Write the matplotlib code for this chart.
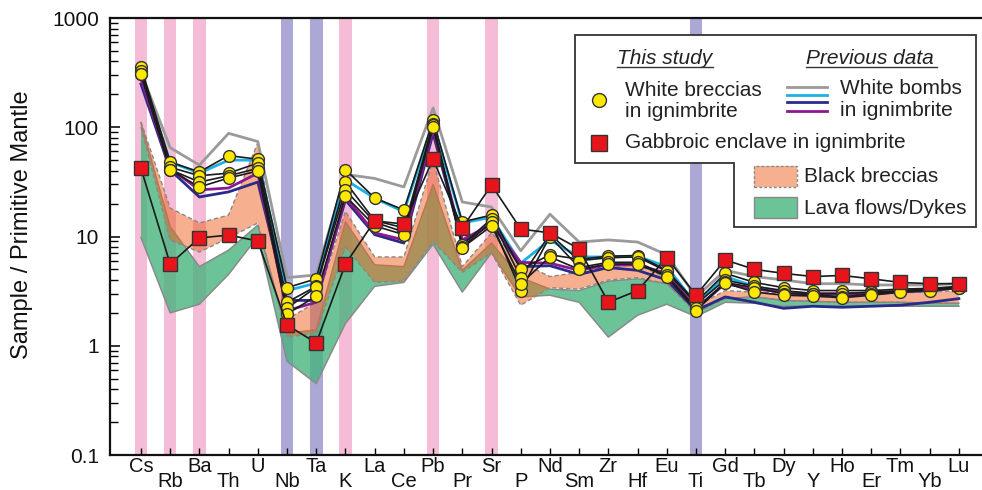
import matplotlib
matplotlib.use("Agg")
import matplotlib.pyplot as plt
import numpy as np
from matplotlib.patches import Polygon, Rectangle
from matplotlib.lines import Line2D
from matplotlib.ticker import LogLocator, NullFormatter, FixedLocator, FixedFormatter

plt.rcParams['font.family'] = ['Liberation Sans', 'DejaVu Sans']

elements = ['Cs', 'Rb', 'Ba', 'Th', 'U', 'Nb', 'Ta', 'K', 'La', 'Ce', 'Pb', 'Pr', 'Sr', 'P', 'Nd',
            'Sm', 'Zr', 'Hf', 'Eu', 'Ti', 'Gd', 'Tb', 'Dy', 'Y', 'Ho', 'Er', 'Tm', 'Yb', 'Lu']

# Gabbroic enclave (this study)
gabbro = [42, 5.6, 9.7, 10.3, 9.1, 1.55, 1.06, 5.6, 13.9, 13.0, 51, 12.0, 29.6, 11.7, 10.8,
          7.7, 2.5, 3.2, 6.4, 2.9, 6.1, 5.0, 4.6, 4.3, 4.4, 4.1, 3.8, 3.7, 3.7]

# White breccias in ignimbrite (this study)
wb1 = [355, 48, 39, 55, 51, 3.4, 4.1, 41, 22.5, 17.5, 116, 13.6, 15.7, 5.0, 6.8,
       6.2, 6.6, 6.7, 4.9, 2.5, 4.6, 3.8, 3.4, 3.2, 3.2, 3.2, 3.3, 3.35, 3.5]
wb2 = [330, 43, 36, 38, 47, 2.5, 3.5, 31.5, 14, 12, 108, 8.4, 14.5, 4.2, 10.5,
       6.0, 6.4, 6.5, 4.8, 2.4, 4.0, 3.5, 3.2, 3.0, 3.0, 3.1, 3.2, 3.3, 3.45]
wb3 = [310, 41, 31.5, 36, 42, 2.2, 3.45, 26.7, 13.5, 11, 104, 8.0, 13.5, 3.2, 10.0,
       5.2, 5.8, 5.8, 4.4, 2.2, 3.8, 3.4, 3.0, 2.95, 2.8, 3.0, 3.15, 3.25, 3.4]
wb4 = [305, 40.6, 28.4, 34.3, 39.8, 1.95, 2.85, 23.5, 12.5, 10.4, 100, 7.9, 12.5, 3.7, 6.5,
       5.0, 5.6, 5.6, 4.3, 2.1, 3.75, 3.1, 2.9, 2.85, 2.75, 2.9, 3.1, 3.2, 3.35]
white_breccias = [wb1, wb2, wb3, wb4]

# White bombs in ignimbrite (previous data)
bomb_gray = [320, 65, 45, 88, 74, 4.2, 4.45, 37, 34, 28.4, 150, 20.7, 18.6, 7.4, 16,
             8.9, 9.3, 8.9, 6.8, 2.8, 4.9, 4.3, 4.0, 3.7, 3.7, 3.6, 3.6, 3.6, 3.7]
bomb_cyan = [310, 48, 38, 50, 50, 3.2, 3.75, 33, 22.5, 16.8, 110, 13.3, 15, 5.7, 9.3,
             6.5, 6.5, 6.6, 5.3, 2.4, 4.3, 3.5, 3.1, 2.9, 2.9, 3.0, 3.1, 3.2, 3.4]
bomb_navy = [249, 40.6, 23, 25.6, 31.5, 2.6, 2.6, 21.6, 10.4, 8.7, 88, 8.7, 13.3, 5.3, 5.4,
             4.5, 5.2, 4.9, 4.0, 2.1, 2.8, 2.5, 2.2, 2.3, 2.25, 2.3, 2.35, 2.5, 2.7]
bomb_purple = [280, 42, 26.7, 27.8, 38, 2.1, 2.5, 23, 10.8, 9.3, 95, 9.3, 13, 5.8, 5.7,
               4.9, 5.5, 5.5, 4.6, 2.2, 3.7, 3.3, 3.1, 3.0, 3.0, 3.0, 3.1, 3.2, 3.4]

# Black breccias range
bb_hi = [112, 18.2, 13.3, 15.7, 72, 1.75, 2.5, 17, 6.5, 6.5, 50, 5.3, 10.8, 5.8, 4.3,
         4.7, 5.3, 5.5, 4.2, 2.3, 3.2, 3.1, 3.0, 3.0, 3.0, 3.0, 3.05, 3.1, 3.2]
bb_lo = [100, 9.3, 7.2, 9.7, 13.3, 1.2, 1.3, 8.0, 3.8, 3.9, 9.0, 4.7, 7.1, 2.35, 3.4,
         3.3, 4.0, 4.2, 3.7, 2.0, 2.7, 2.8, 2.6, 2.55, 2.5, 2.5, 2.5, 2.45, 2.45]

# Lava flows / dykes range
lf_hi = [110, 12.3, 5.3, 7.5, 12.7, 1.3, 1.4, 13.6, 5.5, 5.3, 30, 4.9, 8.7, 4.2, 3.3,
         3.2, 3.9, 4.1, 3.7, 2.2, 2.7, 2.8, 2.6, 2.55, 2.5, 2.5, 2.5, 2.45, 2.45]
lf_lo = [9.8, 2.0, 2.4, 4.5, 10, 0.72, 0.45, 1.6, 3.5, 3.8, 8.5, 3.1, 7.1, 2.8, 2.9,
         2.5, 1.2, 1.9, 2.4, 1.85, 2.5, 2.45, 2.3, 2.3, 2.3, 2.3, 2.3, 2.3, 2.3]

pink_elems = ['Cs', 'Rb', 'Ba', 'K', 'Pb', 'Sr']
purple_elems = ['Nb', 'Ta', 'Ti']

W, H = 982, 490
fig = plt.figure(figsize=(W / 100, H / 100), dpi=100)
ax = fig.add_axes([110 / W, 1 - 455 / H, 1 - 110 / W, (455 - 18) / H])

x = np.arange(len(elements))
ax.set_yscale('log')
ax.set_ylim(0.1, 1000)
ax.set_xlim(-1.06, 28.79)

# highlight bars
for e in pink_elems:
    i = elements.index(e)
    ax.axvspan(i - 0.215, i + 0.215, color='#f4bcd7', lw=0, zorder=0)
for e in purple_elems:
    i = elements.index(e)
    ax.axvspan(i - 0.215, i + 0.215, color='#aca8d6', lw=0, zorder=0)

# fields
green_face = '#47b47d'
salmon_face = '#ef6220'
salmon_alpha = 0.5
ax.fill_between(x, lf_lo, lf_hi, facecolor=green_face, alpha=0.8, lw=0, zorder=1)
ax.plot(x, lf_hi, color='#8a8a8a', lw=1.1, zorder=1.1)
ax.plot(x, lf_lo, color='#8a8a8a', lw=1.1, zorder=1.1)
ax.fill_between(x, bb_lo, bb_hi, facecolor=salmon_face, alpha=salmon_alpha, lw=0, zorder=1.2)
ax.plot(x, bb_hi, color='#888888', lw=1.0, ls=(0, (3, 2)), zorder=1.3)
ax.plot(x, bb_lo, color='#888888', lw=1.0, ls=(0, (3, 2)), zorder=1.3)

# previous data lines
bomb_colors = ['#9a9a9a', '#1cb0e6', '#2a2a8a', '#8c1a8c']
for s, c in zip([bomb_gray, bomb_cyan, bomb_navy, bomb_purple], bomb_colors):
    ax.plot(x, s, color=c, lw=2.0, zorder=2)

# white breccias
for s in white_breccias:
    ax.plot(x, s, color='#1a1a1a', lw=1.2, zorder=3)
for s in white_breccias:
    ax.plot(x, s, ls='none', marker='o', ms=8.5, mfc='#ffe800', mec='#333333', mew=1.0, zorder=4)

# gabbroic enclave
ax.plot(x, gabbro, color='#1a1a1a', lw=1.2, zorder=5)
ax.plot(x, gabbro, ls='none', marker='s', ms=10, mfc='#e8141c', mec='#333333', mew=1.0, zorder=6)

# axes styling
for sp in ['top', 'left', 'bottom']:
    ax.spines[sp].set_linewidth(1.6)
    ax.spines[sp].set_color('#111111')
ax.spines['right'].set_visible(False)

ax.yaxis.set_major_locator(FixedLocator([0.1, 1, 10, 100, 1000]))
ax.yaxis.set_major_formatter(FixedFormatter(['0.1', '1', '10', '100', '1000']))
ax.yaxis.set_minor_locator(LogLocator(base=10, subs=np.arange(2, 10)))
ax.yaxis.set_minor_formatter(NullFormatter())
ax.tick_params(axis='y', which='major', direction='in', length=7, width=1.2, labelsize=15, pad=8, colors='#111111')
ax.tick_params(axis='y', which='minor', direction='in', length=5.5, width=1.0)

ax.set_xticks(x)
ax.set_xticklabels([])
ax.tick_params(axis='x', which='major', direction='in', length=5, width=1.0)
ax.tick_params(axis='x', which='minor', bottom=False)

for i, e in enumerate(elements):
    off = -2 if i % 2 == 0 else -17
    ax.annotate(e, xy=(i, 0), xycoords=('data', 'axes fraction'), xytext=(0, off),
                textcoords='offset pixels', ha='center', va='top', fontsize=14.5,
                color='#111111', annotation_clip=False)

fig.text(22 / W, 1 - 225 / H, 'Sample / Primitive Mantle', rotation=90, ha='center', va='center',
         fontsize=17, color='#111111')

# legend (custom L-shaped box)
def fp(px, py):
    return (px / W, 1 - py / H)

poly = [fp(575, 35), fp(976, 35), fp(976, 227), fp(734, 227), fp(734, 163), fp(575, 163)]
ax.add_patch(Polygon(poly, closed=True, transform=fig.transFigure, facecolor='white',
                     edgecolor='#333333', lw=1.3, zorder=10))

def ftext(px, py, s, **kw):
    ax.text(px / W, 1 - py / H, s, transform=fig.transFigure, zorder=11, color='#222222', **kw)

ftext(617, 58, 'This study', fontsize=15, style='italic', ha='left', va='center')
ftext(806, 58, 'Previous data', fontsize=15, style='italic', ha='left', va='center')
for x0, x1 in [(617, 713), (806, 937)]:
    ax.add_line(Line2D([x0 / W, x1 / W], [1 - 67 / H, 1 - 67 / H], transform=fig.transFigure,
                       color='#333333', lw=1.0, zorder=11))

ax.add_line(Line2D([599 / W], [1 - 100 / H], transform=fig.transFigure, ls='none', marker='o',
                   ms=10, mfc='#ffe800', mec='#333333', mew=1.0, zorder=11))
ftext(625, 90, 'White breccias', fontsize=15, ha='left', va='center')
ftext(625, 111, 'in ignimbrite', fontsize=15, ha='left', va='center')

for yy, c in zip([87, 95, 102, 111], bomb_colors):
    ax.add_line(Line2D([787 / W, 827 / W], [1 - yy / H, 1 - yy / H], transform=fig.transFigure,
                       color=c, lw=2.0, zorder=11))
ftext(840, 88, 'White bombs', fontsize=15, ha='left', va='center')
ftext(840, 110, 'in ignimbrite', fontsize=15, ha='left', va='center')

ax.add_line(Line2D([599 / W], [1 - 143 / H], transform=fig.transFigure, ls='none', marker='s',
                   ms=11, mfc='#e8141c', mec='#333333', mew=1.0, zorder=11))
ftext(625, 143, 'Gabbroic enclave in ignimbrite', fontsize=15, ha='left', va='center')

ax.add_patch(Rectangle(fp(754, 187), 43 / W, 21 / H, transform=fig.transFigure,
                       facecolor=salmon_face, alpha=salmon_alpha, edgecolor='none', zorder=11))
ax.add_patch(Rectangle(fp(754, 187), 43 / W, 21 / H, transform=fig.transFigure,
                       facecolor='none', edgecolor='#888888', lw=1.0, ls=(0, (2, 1.5)), zorder=11.5))
ftext(804, 176, 'Black breccias', fontsize=15, ha='left', va='center')
ax.add_patch(Rectangle(fp(754, 218), 43 / W, 21 / H, transform=fig.transFigure,
                       facecolor=green_face, alpha=0.8, edgecolor='none', zorder=11))
ax.add_patch(Rectangle(fp(754, 218), 43 / W, 21 / H, transform=fig.transFigure,
                       facecolor='none', edgecolor='#888888', lw=1.0, zorder=11.5))
ftext(804, 208, 'Lava flows/Dykes', fontsize=15, ha='left', va='center')

fig.savefig('out.png', dpi=100)
